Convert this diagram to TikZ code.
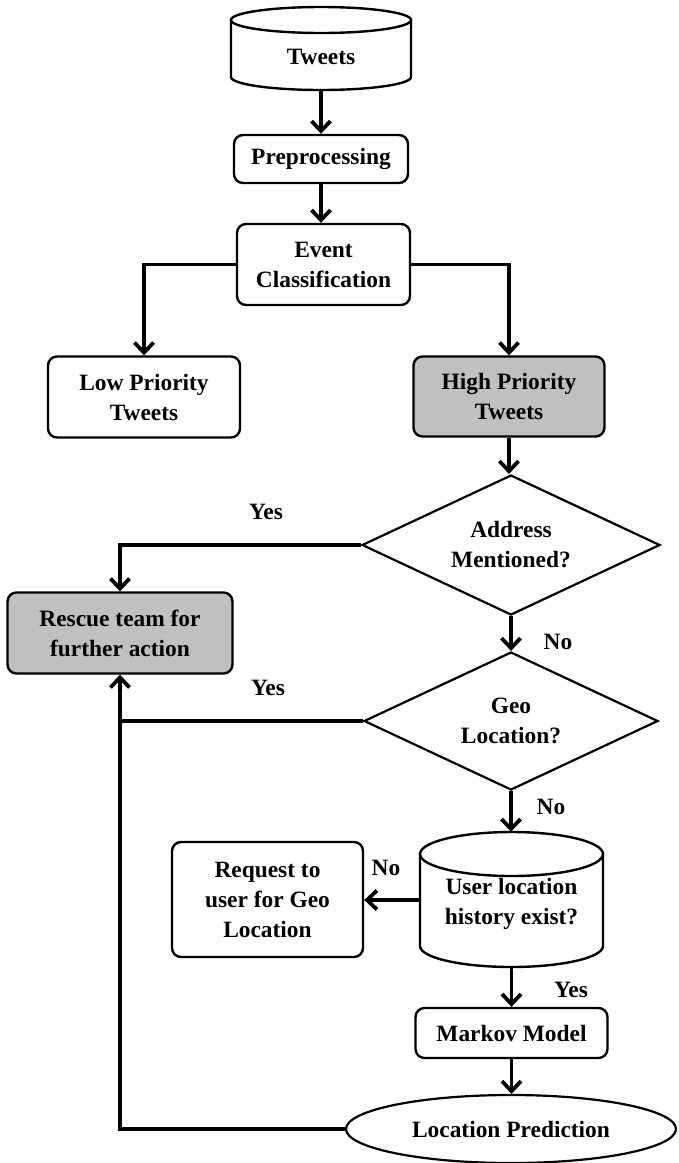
\documentclass[tikz,border=0pt]{standalone}
\usepackage{fontspec}
\setmainfont{Liberation Serif}
\usetikzlibrary{arrows.meta,shapes.geometric}
\definecolor{boxgray}{HTML}{C0C0C0}
\begin{document}
\begin{tikzpicture}[x=1pt,y=-1pt,
  txt/.style={font=\fontsize{23.4}{30}\selectfont\bfseries, align=center, inner sep=0pt},
  box/.style={txt, draw, line width=2.4pt, rounded corners=9pt},
  grayfill/.style={fill=boxgray},
  dia/.style={txt, draw, line width=2.2pt, diamond, aspect=2.1},
  shapeline/.style={line width=2.4pt},
  conn/.style={line width=3.8pt},
  arr/.style={conn, -{Straight Barb[length=10pt,width=19pt]}},
  lbl/.style={font=\fontsize{23.4}{26}\selectfont\bfseries, inner sep=0pt}]
\useasboundingbox (0,0) rectangle (678,1163);

% Tweets cylinder
\draw[shapeline] (231,20) -- (231,77) arc[start angle=180,end angle=0,x radius=90,y radius=13] -- (411,20);
\draw[shapeline] (321,20) ellipse[x radius=90,y radius=13];
\node[txt, minimum width=180pt, minimum height=66pt] (tweets) at (321,57) {Tweets};

\node[box, minimum width=174pt, minimum height=48pt] (preproc) at (321,159) {Preprocessing};
\node[box, minimum width=173pt, minimum height=81pt] (event) at (323.5,264.5) {Event\\Classification};
\node[box, minimum width=192pt, minimum height=81pt] (low) at (144,397) {Low Priority\\Tweets};
\node[box, grayfill, minimum width=191pt, minimum height=80pt] (high) at (509,396.5) {High Priority\\Tweets};
\node[dia, minimum width=298pt, minimum height=140pt] (address) at (511,545) {Address\\Mentioned?};
\node[box, grayfill, minimum width=225pt, minimum height=81pt] (rescue) at (120,633) {Rescue team for\\further action};
\node[dia, minimum width=294pt, minimum height=138pt] (geo) at (511,721) {Geo\\Location?};

% User location cylinder
\draw[shapeline] (420,854) -- (420,946) arc[start angle=180,end angle=0,x radius=91.5,y radius=21] -- (603,854);
\draw[shapeline] (511.5,854) ellipse[x radius=91.5,y radius=22];
\node[minimum width=183pt, minimum height=136pt, inner sep=0pt] (user) at (511.5,900) {};
\node[txt] (usertext) at (511.5,904) {User location\\history exist?};

\node[box, minimum width=191pt, minimum height=115pt] (request) at (267.5,899.5) {Request to\\user for Geo\\Location};
\node[box, minimum width=192pt, minimum height=50pt] (markov) at (511.5,1033) {Markov Model};
\node[txt, draw, line width=2.2pt, ellipse, minimum width=330pt, minimum height=68pt] (locpred) at (511,1129) {Location Prediction};

% connectors
\draw[arr] (tweets.south) -- (tweets.south |- preproc.north);
\draw[arr] (preproc.south) -- (preproc.south |- event.north);
\draw[arr] (event.west) -| (low.north);
\draw[arr] (event.east) -| (high.north);
\draw[arr] (high.south) -- (high.south |- address.north);
\draw[arr] (address.west) -| (rescue.north);
\draw[arr] (address.south) -- (geo.north);
\draw[arr] (locpred.west) -| (rescue.south);
\coordinate (geojoin) at (geo.west -| rescue.south);
\draw[conn] (geo.west) -- (geojoin);
\draw[arr] (geo.south) -- (geo.south |- user.north);
\draw[arr] (user.west) -- (user.west -| request.east);
\draw[arr] (user.south) -- (user.south |- markov.north);
\draw[arr] (markov.south) -- (markov.south |- locpred.north);

% labels
\node[lbl] (yes1) at (266,512) {Yes};
\node[lbl] (no1) at (558,642) {No};
\node[lbl] (yes2) at (268,688) {Yes};
\node[lbl] (no2) at (551,807) {No};
\node[lbl] (no3) at (386,868) {No};
\node[lbl] (yes3) at (571,990) {Yes};
\end{tikzpicture}
\end{document}
